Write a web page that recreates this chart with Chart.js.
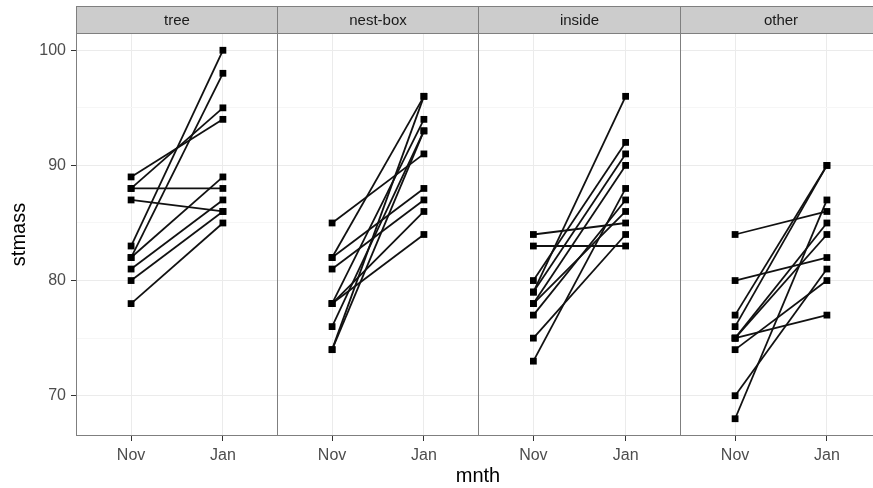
<!DOCTYPE html>
<html>
<head>
<meta charset="utf-8">
<script src="https://cdn.jsdelivr.net/npm/chart.js@4"></script>
<style>
  html, body { margin: 0; padding: 0; background: #fff; }
  body { width: 873px; height: 488px; overflow: hidden; position: relative; font-family: "Liberation Sans", Arial, sans-serif; }
  canvas { position: absolute; top: 0; }
  #xtitle { position: absolute; left: 0; width: 956px; top: 464px; text-align: center; font-size: 20px; color: #000; }
</style>
</head>
<body>
<canvas id="c0"></canvas>
<canvas id="c1"></canvas>
<canvas id="c2"></canvas>
<canvas id="c3"></canvas>
<div id="xtitle">mnth</div>
<script>
// facets and months
var panels = ['tree', 'nest-box', 'inside', 'other'];
var months = ['Nov', 'Jan'];
var yTicks = [70, 75, 80, 85, 90, 95, 100];

// stmass per bird, Nov -> Jan
var treeNov = [89, 88, 88, 87, 83, 82, 82, 81, 80, 78];
var treeJan = [94, 95, 88, 86, 100, 98, 89, 87, 86, 85];

var nestNov = [85, 82, 82, 81, 78, 78, 78, 76, 74, 74];
var nestJan = [91, 96, 88, 87, 94, 86, 84, 93, 96, 93];

var insideNov = [84, 83, 80, 79, 79, 78, 78, 77, 75, 73];
var insideJan = [85, 83, 92, 96, 91, 90, 86, 87, 84, 88];

var otherNov = [84, 80, 77, 76, 75, 75, 75, 74, 70, 68];
var otherJan = [86, 82, 90, 90, 85, 84, 77, 80, 81, 87];

var novData = [treeNov, nestNov, insideNov, otherNov];
var janData = [treeJan, nestJan, insideJan, otherJan];

// canvas placement of each facet
var lefts = [0, 277, 478, 680];
var widths = [278, 202, 203, 202];

var FONT = '"Liberation Sans", Arial, sans-serif';

// panel border + strip on top
var facetPlugin = {
    id: 'facet',
    afterDraw: function(chart, args, opts) {
        var ctx = chart.ctx;
        var a = chart.chartArea;
        ctx.save();
        // strip
        ctx.fillStyle = '#cccccc';
        ctx.fillRect(a.left, 6, a.right - a.left, a.top - 6);
        ctx.strokeStyle = '#7f7f7f';
        ctx.lineWidth = 1;
        ctx.strokeRect(a.left + 0.5, 6.5, a.right - a.left - 1, a.top - 6);
        ctx.fillStyle = '#1a1a1a';
        ctx.font = '15px ' + FONT;
        ctx.textAlign = 'center';
        ctx.textBaseline = 'middle';
        ctx.fillText(opts.label, (a.left + a.right) / 2, (6 + a.top) / 2 + 1);
        // panel frame
        ctx.strokeStyle = '#7f7f7f';
        ctx.strokeRect(a.left + 0.5, a.top + 0.5, a.right - a.left - 1, a.bottom - a.top - 1);
        ctx.restore();
    }
};

function makePanel(i) {
    var canvas = document.getElementById('c' + i);
    canvas.width = widths[i];
    canvas.height = 488;
    canvas.style.left = lefts[i] + 'px';
    var first = i === 0;
    var nov = novData[i], jan = janData[i];

    var datasets = nov.map(function(v, k) {
        return {
            data: [{x: 1, y: v}, {x: 2, y: jan[k]}],
            borderColor: '#111',
            backgroundColor: '#000',
            borderWidth: 1.8,
            pointStyle: 'rect',
            pointRadius: 4.8,
            pointBorderWidth: 0,
            pointBackgroundColor: '#000'
        };
    });

    new Chart(canvas, {
        type: 'line',
        data: { datasets: datasets },
        options: {
            responsive: false,
            animation: false,
            layout: { autoPadding: false, padding: { top: 33, left: 0, right: 0, bottom: 0 } },
            plugins: {
                legend: { display: false },
                tooltip: { enabled: false },
                facet: { label: panels[i] }
            },
            scales: {
                x: {
                    type: 'linear',
                    min: 0.4,
                    max: 2.6,
                    afterBuildTicks: function(s) { s.ticks = months.map(function(m, j) { return {value: j + 1}; }); },
                    afterFit: function(s) { s.height = 52; s.paddingLeft = 0; s.paddingRight = 0; },
                    ticks: {
                        callback: function(v) { return months[v - 1]; },
                        font: { size: 16, family: FONT },
                        color: '#4d4d4d',
                        padding: 5,
                        maxRotation: 0
                    },
                    grid: { color: '#ebebeb', tickColor: '#333', tickLength: 5 },
                    border: { display: false }
                },
                y: {
                    min: 66.5,
                    max: 101.5,
                    afterBuildTicks: function(s) { s.ticks = yTicks.map(function(v) { return {value: v}; }); },
                    afterFit: function(s) { s.width = first ? 76 : 0; s.paddingTop = 0; s.paddingBottom = 0; },
                    ticks: {
                        display: first,
                        callback: function(v) { return v % 10 === 0 ? v : ''; },
                        font: { size: 16, family: FONT },
                        color: '#4d4d4d',
                        padding: 5
                    },
                    grid: {
                        drawTicks: first,
                        tickLength: 5,
                        color: function(c) { return c.tick && c.tick.value % 10 === 0 ? '#ebebeb' : '#f6f6f6'; },
                        tickColor: function(c) { return c.tick && c.tick.value % 10 === 0 ? '#333' : 'rgba(0,0,0,0)'; }
                    },
                    border: { display: false },
                    title: {
                        display: first,
                        text: 'stmass',
                        font: { size: 20, family: FONT },
                        color: '#000',
                        padding: { top: 7, bottom: 0 }
                    }
                }
            }
        },
        plugins: [facetPlugin]
    });
}

document.addEventListener('DOMContentLoaded', function() {
    for (var i = 0; i < panels.length; i++) makePanel(i);
});
</script>
</body>
</html>
